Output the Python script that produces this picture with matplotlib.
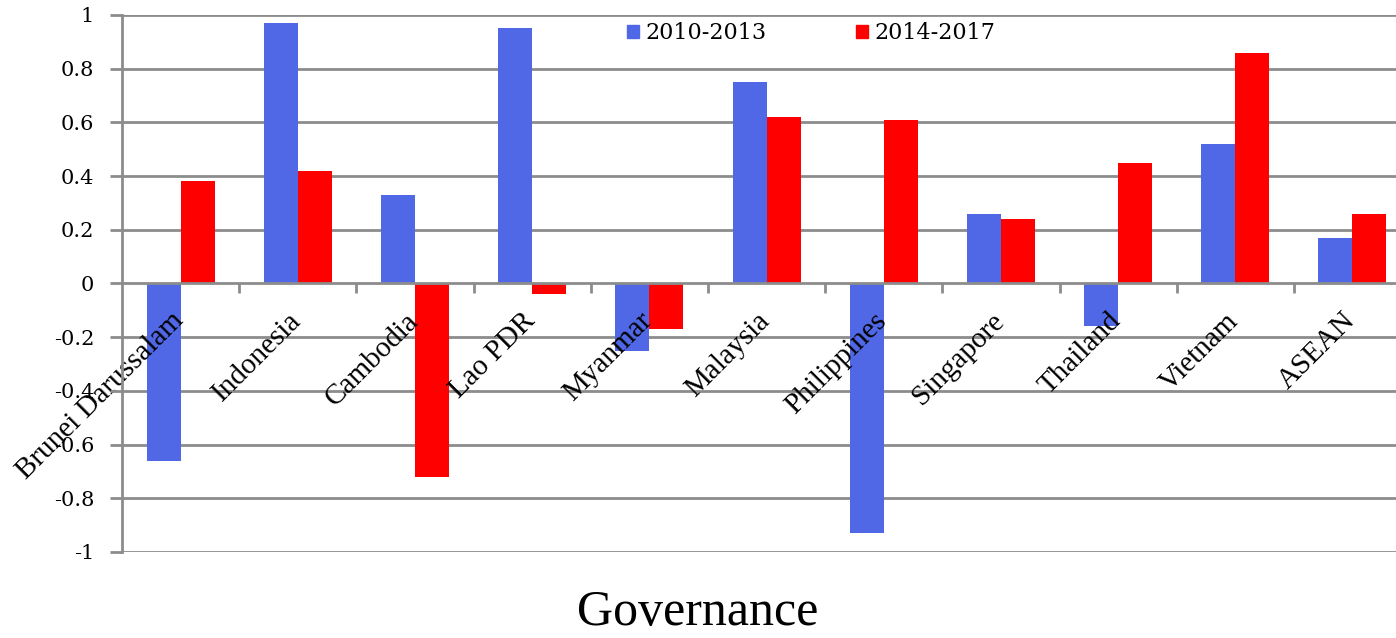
import numpy as np
import matplotlib
matplotlib.use("Agg")
import matplotlib.pyplot as plt
import matplotlib.transforms as mtransforms
from matplotlib.ticker import FixedLocator, FuncFormatter
from matplotlib.patches import Patch

countries = ["Brunei Darussalam", "Indonesia", "Cambodia", "Lao PDR", "Myanmar",
             "Malaysia", "Philippines", "Singapore", "Thailand", "Vietnam", "ASEAN"]
period_1 = [-0.66, 0.97, 0.33, 0.95, -0.25, 0.75, -0.93, 0.26, -0.16, 0.52, 0.17]
period_2 = [0.38, 0.42, -0.72, -0.04, -0.17, 0.62, 0.61, 0.24, 0.45, 0.86, 0.26]
series_names = ["2010-2013", "2014-2017"]
yticks = [-1, -0.8, -0.6, -0.4, -0.2, 0, 0.2, 0.4, 0.6, 0.8, 1]

blue = "#5068e6"
red = "#ff0000"
grey = "#8c8c8c"
serif = ["Liberation Serif", "DejaVu Serif"]
num_font = ["DejaVu Serif"]

fig = plt.figure(figsize=(13.96, 6.38), dpi=100)
# the original chart is cut off at the right edge
ax = fig.add_axes([0.0874, 0.1348, 0.9234, 0.8417])

x = np.arange(len(countries)) + 0.5
w = 0.29

# grid lines drawn by hand so they stay under the bars, while tick labels stay on top
for v in yticks:
    if v != 0:
        ax.axhline(v, color=grey, linewidth=2, zorder=0.5)

ax.bar(x - w / 2, period_1, w, color=blue, zorder=1)
ax.bar(x + w / 2, period_2, w, color=red, zorder=1)

ax.set_xlim(0, len(countries))
ax.set_ylim(-1, 1)

ax.yaxis.set_major_locator(FixedLocator(yticks))
ax.yaxis.set_major_formatter(FuncFormatter(lambda v, p: "{:g}".format(round(v, 1))))
ax.tick_params(axis="y", length=9, width=2, color=grey, pad=11, labelsize=15)
for lbl in ax.get_yticklabels():
    lbl.set_family(num_font)

# x axis sits on zero
for s in ["top", "right"]:
    ax.spines[s].set_visible(False)
ax.spines["left"].set_color(grey)
ax.spines["left"].set_linewidth(2)
ax.spines["bottom"].set_position(("data", 0))
ax.spines["bottom"].set_color(grey)
ax.spines["bottom"].set_linewidth(2)

ax.set_xticks(x)
ax.set_xticklabels(countries, rotation=45, ha="right", va="top",
                   rotation_mode="anchor", fontsize=21, family=serif)
ax.tick_params(axis="x", length=0, pad=6)
shift = mtransforms.ScaledTranslation(-10 / 100, -16 / 100, fig.dpi_scale_trans)
for lbl in ax.get_xticklabels():
    lbl.set_transform(lbl.get_transform() + shift)
ax.set_xticks(np.arange(1, len(countries)), minor=True)
ax.tick_params(axis="x", which="minor", length=7, width=2, color=grey)

handles = [Patch(color=blue), Patch(color=red)]
fig.legend(handles, series_names, loc="center", ncol=2,
           bbox_to_anchor=(0.581, 0.948), frameon=False,
           handlelength=0.55, handleheight=0.55, handletextpad=0.3,
           columnspacing=4.0, prop={"family": num_font, "size": 16})

fig.text(0.4995, 0.04, "Governance", ha="center", va="center",
         fontsize=36, family=serif)

fig.savefig("out.png", dpi=100)
